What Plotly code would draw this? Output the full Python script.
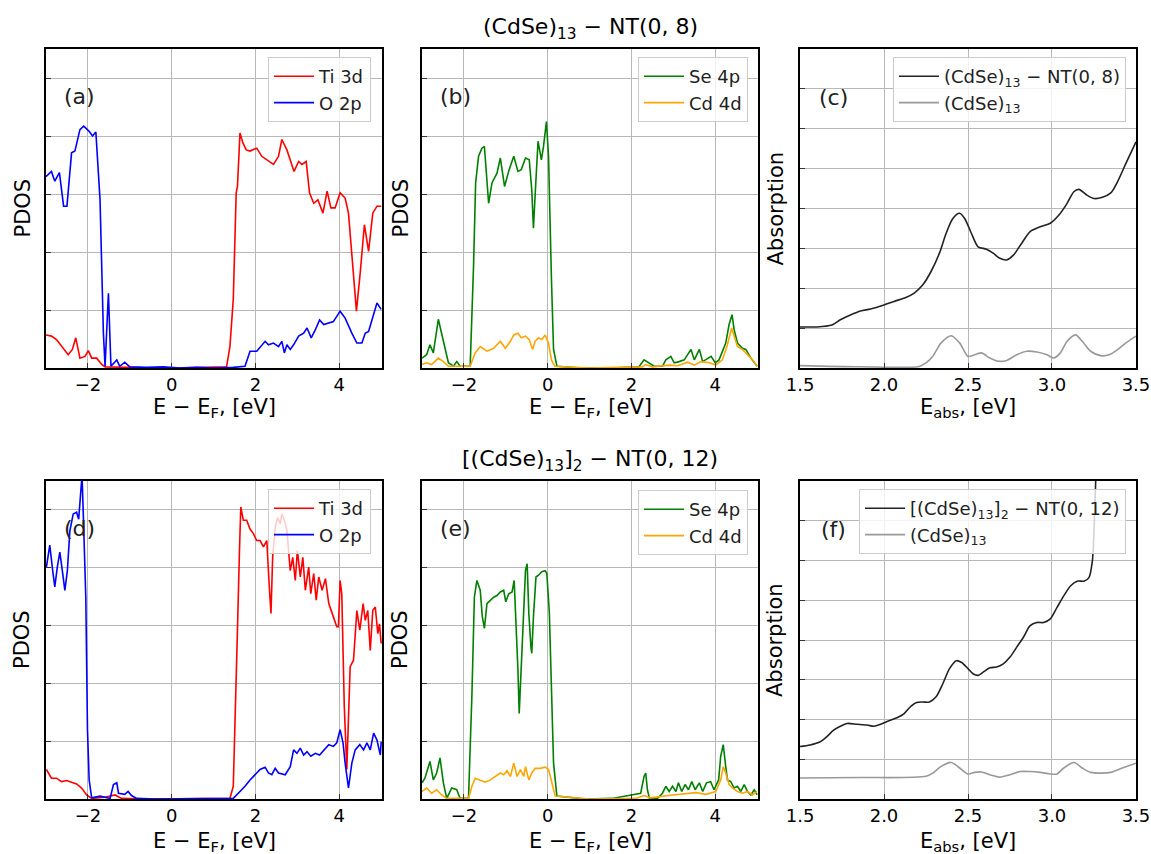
import plotly.graph_objects as go

# ---------------- data ----------------
# Panel (a): (CdSe)13-NT(0,8), Ti 3d / O 2p PDOS
a_ti_x = [-3.0,-2.87,-2.75,-2.63,-2.47,-2.37,-2.29,-2.19,-2.07,-1.99,-1.91,-1.79,-1.67,-1.59,-1.2,-0.8,-0.4,0,0.4,0.8,1.31,1.39,1.47,1.54,1.57,1.63,1.70,1.78,1.87,2.03,2.15,2.27,2.43,2.55,2.63,2.75,2.83,2.92,3.03,3.11,3.21,3.29,3.39,3.49,3.61,3.71,3.80,3.90,4.02,4.14,4.22,4.30,4.41,4.50,4.60,4.70,4.80,4.90,5.0]
a_ti_y = [0.57,0.55,0.49,0.37,0.23,0.32,0.52,0.17,0.20,0.30,0.17,0.17,0.06,0.02,0.01,0.01,0.0,0.0,0.0,0.01,0.02,0.37,1.18,3.02,3.13,4.05,3.88,3.76,3.74,3.79,3.65,3.59,3.51,3.65,3.94,3.76,3.59,3.39,3.56,3.51,3.56,3.02,2.84,2.90,2.67,3.05,2.76,2.76,3.02,2.93,2.67,1.98,0.98,1.64,2.47,2.01,2.67,2.79,2.79]
a_o_x = [-3.0,-2.87,-2.79,-2.68,-2.58,-2.5,-2.39,-2.31,-2.19,-2.10,-1.97,-1.89,-1.81,-1.71,-1.63,-1.59,-1.51,-1.45,-1.31,-1.24,-1.12,-1.0,-0.6,-0.2,0.2,0.6,1.0,1.47,1.75,1.87,2.03,2.23,2.31,2.43,2.55,2.63,2.69,2.75,2.83,2.91,3.03,3.15,3.23,3.33,3.43,3.53,3.63,3.75,3.86,4.02,4.14,4.30,4.42,4.54,4.62,4.70,4.80,4.90,5.0]
a_o_y = [3.30,3.39,3.22,3.37,2.79,2.79,3.71,3.74,4.11,4.17,4.08,4.0,4.07,2.90,0.60,0.03,1.29,0.03,0.14,0.03,0.10,0.02,0.01,0.02,0.0,0.01,0.0,0.01,0.03,0.29,0.29,0.46,0.40,0.43,0.37,0.46,0.26,0.40,0.32,0.40,0.55,0.60,0.69,0.52,0.66,0.83,0.75,0.78,0.80,0.98,0.86,0.60,0.43,0.43,0.60,0.63,0.89,1.12,1.01]

# Panel (b): Se 4p / Cd 4d PDOS
b_se_x = [-3.0,-2.89,-2.81,-2.73,-2.61,-2.53,-2.45,-2.37,-2.25,-2.17,-2.09,-1.85,-1.77,-1.72,-1.65,-1.57,-1.51,-1.45,-1.41,-1.33,-1.21,-1.13,-1.03,-0.92,-0.81,-0.71,-0.63,-0.53,-0.44,-0.38,-0.34,-0.28,-0.23,-0.15,-0.10,-0.03,0.02,0.09,0.14,0.22,0.8,1.5,2.18,2.30,2.42,2.54,2.74,2.82,2.94,3.02,3.14,3.26,3.34,3.42,3.50,3.62,3.70,3.82,3.90,4.0,4.09,4.25,4.33,4.40,4.45,4.53,4.65,4.73,4.85,5.0]
b_se_y = [0.17,0.23,0.40,0.26,0.84,0.60,0.32,0.09,0.03,0.11,0.03,0.03,1.75,3.19,3.65,3.79,3.82,3.30,2.84,3.19,3.36,3.62,3.13,3.42,3.65,3.39,3.42,3.62,3.59,3.07,2.41,3.25,3.91,3.59,3.82,4.25,3.65,1.52,0.32,0.03,0.0,0.0,0.02,0.14,0.09,0.03,0.03,0.14,0.20,0.09,0.11,0.14,0.23,0.32,0.14,0.32,0.11,0.17,0.20,0.09,0.14,0.43,0.75,0.92,0.66,0.43,0.34,0.32,0.17,0.03]
b_cd_x = [-3.0,-2.89,-2.77,-2.61,-2.49,-2.37,-1.85,-1.73,-1.61,-1.45,-1.29,-1.13,-1.01,-0.89,-0.81,-0.71,-0.63,-0.53,-0.44,-0.36,-0.30,-0.22,-0.14,-0.06,0.02,0.09,0.17,1.0,2.26,2.34,2.5,2.9,3.1,3.34,3.5,3.66,3.86,4.01,4.17,4.29,4.39,4.45,4.53,4.65,4.77,4.89,5.0]
b_cd_y = [0.06,0.09,0.06,0.17,0.11,0.03,0.03,0.26,0.37,0.29,0.34,0.46,0.34,0.46,0.57,0.60,0.52,0.55,0.49,0.32,0.46,0.52,0.49,0.57,0.43,0.14,0.03,0.0,0.02,0.06,0.02,0.05,0.04,0.10,0.05,0.11,0.09,0.05,0.14,0.40,0.69,0.55,0.37,0.32,0.23,0.14,0.03]

# Panel (c): absorption
c_nt_x = [1.5,1.60,1.69,1.74,1.80,1.86,1.92,2.0,2.06,2.13,2.18,2.23,2.28,2.33,2.37,2.41,2.45,2.48,2.52,2.56,2.61,2.65,2.69,2.73,2.77,2.82,2.87,2.93,2.99,3.04,3.09,3.13,3.16,3.21,3.25,3.30,3.35,3.39,3.44,3.5]
c_nt_y = [1.03,1.03,1.08,1.21,1.33,1.43,1.48,1.58,1.67,1.77,1.88,2.08,2.42,2.88,3.38,3.75,3.88,3.75,3.38,3.04,2.98,2.88,2.75,2.71,2.83,3.13,3.42,3.54,3.63,3.83,4.13,4.42,4.48,4.33,4.25,4.28,4.39,4.67,5.13,5.67]
c_cl_x = [1.5,1.86,2.21,2.25,2.29,2.34,2.40,2.45,2.50,2.54,2.58,2.63,2.68,2.73,2.79,2.85,2.91,2.97,3.01,3.05,3.09,3.14,3.18,3.23,3.29,3.34,3.39,3.44,3.5]
c_cl_y = [0.06,0.03,0.04,0.13,0.29,0.63,0.81,0.63,0.29,0.33,0.38,0.25,0.17,0.19,0.33,0.42,0.40,0.33,0.25,0.38,0.67,0.83,0.67,0.42,0.31,0.33,0.46,0.63,0.80]

# Panel (d): [(CdSe)13]2-NT(0,12), Ti 3d / O 2p PDOS
d_ti_x = [-2.99,-2.87,-2.75,-2.63,-2.51,-2.39,-2.27,-2.15,-2.03,-1.91,-1.6,-1.35,-1.2,-0.6,0.0,0.6,1.39,1.47,1.51,1.57,1.62,1.65,1.71,1.79,1.87,1.95,2.03,2.11,2.19,2.27,2.33,2.37,2.41,2.47,2.53,2.59,2.63,2.69,2.75,2.83,2.89,2.95,3.0,3.07,3.13,3.19,3.27,3.32,3.39,3.45,3.51,3.59,3.67,3.75,3.86,3.94,3.98,4.02,4.06,4.12,4.18,4.22,4.26,4.34,4.42,4.49,4.57,4.62,4.68,4.74,4.80,4.86,4.92,4.96,5.0]
d_ti_y = [0.51,0.36,0.36,0.30,0.32,0.29,0.26,0.19,0.07,0.01,0.03,0.07,0.01,0.0,0.0,0.0,0.01,0.22,1.20,2.92,4.36,5.05,4.82,4.82,4.67,4.59,4.47,4.47,4.36,4.47,3.67,3.21,4.18,4.70,4.87,4.76,4.93,4.82,4.64,3.95,4.18,3.78,4.30,3.84,4.18,3.61,4.01,3.55,3.90,3.44,3.84,3.61,3.81,3.38,3.15,2.98,2.98,3.78,3.55,1.60,0.51,1.60,2.29,2.40,3.26,2.92,3.38,3.09,3.26,2.57,3.26,3.32,2.86,3.03,2.69]
d_o_x = [-2.99,-2.91,-2.84,-2.79,-2.73,-2.67,-2.61,-2.55,-2.49,-2.43,-2.35,-2.27,-2.22,-2.17,-2.14,-2.11,-2.05,-2.01,-1.97,-1.91,-1.71,-1.47,-1.39,-1.31,-1.27,-1.12,-1.04,-0.96,-0.84,-0.4,0.4,1.0,1.47,1.63,1.75,1.87,2.0,2.11,2.23,2.31,2.39,2.47,2.55,2.71,2.83,2.91,2.99,3.07,3.15,3.23,3.32,3.43,3.53,3.63,3.75,3.86,3.94,4.02,4.09,4.14,4.22,4.30,4.38,4.49,4.58,4.66,4.74,4.82,4.90,4.98,5.0]
d_o_y = [4.01,4.39,3.95,3.67,4.01,4.27,3.95,3.61,3.95,4.64,4.93,4.96,4.84,5.45,5.6,4.93,3.49,1.20,0.33,0.02,0.05,0.01,0.25,0.28,0.10,0.08,0.13,0.06,0.01,0.0,0.0,0.01,0.01,0.13,0.22,0.33,0.42,0.51,0.55,0.45,0.42,0.53,0.45,0.42,0.56,0.85,0.79,0.88,0.76,0.82,0.74,0.79,0.76,0.85,0.94,0.91,0.97,1.20,0.97,0.62,0.19,0.62,0.85,0.94,0.85,0.97,0.85,1.14,1.02,0.76,0.99]

# Panel (e): Se 4p / Cd 4d PDOS
e_se_x = [-3.0,-2.93,-2.81,-2.73,-2.65,-2.57,-2.49,-2.41,-2.29,-2.17,-2.09,-1.89,-1.81,-1.75,-1.69,-1.61,-1.56,-1.51,-1.45,-1.37,-1.29,-1.21,-1.13,-1.05,-1.0,-0.93,-0.85,-0.80,-0.76,-0.71,-0.68,-0.63,-0.57,-0.53,-0.49,-0.45,-0.40,-0.38,-0.34,-0.28,-0.22,-0.14,-0.06,-0.02,0.04,0.09,0.14,0.22,0.9,1.54,2.22,2.30,2.34,2.38,2.43,2.62,2.74,2.82,2.90,2.98,3.06,3.12,3.20,3.28,3.36,3.44,3.52,3.62,3.70,3.79,3.89,3.97,4.08,4.13,4.19,4.24,4.29,4.37,4.45,4.53,4.61,4.69,4.77,4.85,4.93,5.0]
e_se_y = [0.28,0.36,0.65,0.33,0.45,0.71,0.28,0.01,0.19,0.16,0.01,0.01,1.77,3.49,3.78,3.61,3.15,2.95,3.38,3.44,3.49,3.52,3.58,3.61,3.41,3.55,3.58,3.78,3.15,2.23,1.48,2.23,3.38,3.95,4.07,3.21,2.63,2.52,3.15,3.84,3.87,3.93,3.95,3.90,3.21,1.77,0.62,0.05,0.0,0.01,0.10,0.39,0.45,0.16,0.01,0.01,0.10,0.22,0.13,0.22,0.13,0.28,0.13,0.25,0.16,0.30,0.16,0.28,0.13,0.28,0.30,0.16,0.33,0.74,0.94,0.62,0.33,0.30,0.19,0.22,0.13,0.25,0.13,0.07,0.16,0.07]
e_cd_x = [-3.0,-2.89,-2.77,-2.65,-2.53,-2.41,-1.89,-1.81,-1.73,-1.61,-1.49,-1.37,-1.25,-1.13,-1.05,-0.97,-0.89,-0.81,-0.73,-0.65,-0.57,-0.53,-0.45,-0.38,-0.30,-0.18,-0.06,0.02,0.10,0.18,1.0,2.1,2.30,2.45,2.98,3.30,3.54,3.78,4.01,4.13,4.19,4.25,4.33,4.41,4.53,4.65,4.77,4.89,5.0]
e_cd_y = [0.13,0.19,0.10,0.16,0.07,0.01,0.01,0.22,0.36,0.33,0.29,0.33,0.39,0.45,0.42,0.49,0.39,0.62,0.39,0.51,0.39,0.56,0.33,0.45,0.53,0.53,0.55,0.51,0.28,0.05,0.0,0.01,0.06,0.02,0.07,0.09,0.11,0.08,0.13,0.33,0.56,0.45,0.25,0.19,0.13,0.10,0.13,0.07,0.13]

# Panel (f): absorption
f_nt_x = [1.5,1.56,1.62,1.66,1.70,1.74,1.78,1.84,1.90,1.94,1.98,2.03,2.08,2.12,2.15,2.19,2.23,2.27,2.31,2.35,2.39,2.43,2.46,2.50,2.53,2.56,2.59,2.63,2.67,2.71,2.75,2.79,2.83,2.87,2.91,2.95,2.99,3.03,3.07,3.11,3.15,3.19,3.22,3.24,3.25,3.26,3.27]
f_nt_y = [1.32,1.36,1.44,1.57,1.73,1.83,1.90,1.88,1.86,1.83,1.88,1.97,2.05,2.15,2.29,2.42,2.44,2.44,2.57,2.90,3.28,3.48,3.44,3.28,3.15,3.11,3.19,3.30,3.32,3.40,3.57,3.82,4.07,4.36,4.44,4.44,4.53,4.82,5.11,5.36,5.48,5.48,5.57,5.98,6.73,7.98,8.8]
f_cl_x = [1.5,1.86,2.25,2.29,2.34,2.40,2.45,2.50,2.54,2.58,2.63,2.69,2.75,2.81,2.87,2.93,2.99,3.03,3.07,3.13,3.18,3.23,3.29,3.35,3.40,3.5]
f_cl_y = [0.53,0.54,0.57,0.65,0.82,0.92,0.78,0.63,0.67,0.68,0.61,0.55,0.61,0.69,0.69,0.67,0.63,0.63,0.78,0.92,0.78,0.67,0.65,0.67,0.75,0.90]

pdos_ticks = [-2, 0, 2, 4]
abs_ticks = [1.5, 2.0, 2.5, 3.0, 3.5]
panel_labels = ["(a)", "(b)", "(c)", "(d)", "(e)", "(f)"]
row_titles = ["(CdSe)<sub>13</sub> − NT(0, 8)", "[(CdSe)<sub>13</sub>]<sub>2</sub> − NT(0, 12)"]

# ---------------- layout geometry ----------------
W, H = 1151, 854
FONT = "DejaVu Sans"
col_px = [(46, 382), (422, 758), (800, 1136)]
row_px = [(49, 368), (481, 799)]

def px2x(p):
    return p / W

def px2y(p):
    return 1 - p / H

fig = go.Figure()

def add_line(ax, x, y, color, name, legend, shape="linear", width=1.6):
    fig.add_trace(go.Scatter(
        x=x, y=y, mode="lines", name=name,
        line=dict(color=color, width=width, shape=shape, smoothing=0.8),
        xaxis="x" + ("" if ax == 1 else str(ax)),
        yaxis="y" + ("" if ax == 1 else str(ax)),
        legend=legend, cliponaxis=True,
    ))

add_line(1, a_ti_x, a_ti_y, "#ff0000", "Ti 3d", "legend")
add_line(1, a_o_x, a_o_y, "#0000ff", "O 2p", "legend")
add_line(2, b_se_x, b_se_y, "#008000", "Se 4p", "legend2")
add_line(2, b_cd_x, b_cd_y, "#ffa500", "Cd 4d", "legend2")
add_line(3, c_nt_x, c_nt_y, "#222222", "(CdSe)<sub>13</sub> − NT(0, 8)", "legend3", "spline")
add_line(3, c_cl_x, c_cl_y, "#999999", "(CdSe)<sub>13</sub>", "legend3", "spline")
add_line(4, d_ti_x, d_ti_y, "#ff0000", "Ti 3d", "legend4")
add_line(4, d_o_x, d_o_y, "#0000ff", "O 2p", "legend4")
add_line(5, e_se_x, e_se_y, "#008000", "Se 4p", "legend5")
add_line(5, e_cd_x, e_cd_y, "#ffa500", "Cd 4d", "legend5")
add_line(6, f_nt_x, f_nt_y, "#222222", "[(CdSe)<sub>13</sub>]<sub>2</sub> − NT(0, 12)", "legend6", "spline")
add_line(6, f_cl_x, f_cl_y, "#999999", "(CdSe)<sub>13</sub>", "legend6", "spline")

axis_common = dict(
    showline=True, linecolor="black", linewidth=1.5, mirror=True,
    showgrid=True, gridcolor="#b8b8b8", gridwidth=1.3, automargin=False,
    zeroline=False, ticks="inside", ticklen=5, tickwidth=1.2, tickcolor="#333",
    tickfont=dict(family=FONT, size=18, color="black"),
)

layout = dict(
    width=W, height=H, margin=dict(l=0, r=0, t=0, b=0, autoexpand=False),
    paper_bgcolor="white", plot_bgcolor="white",
    font=dict(family=FONT, color="black"),
)

n = 0
for r in range(2):
    for c in range(3):
        n += 1
        xk = "xaxis" + ("" if n == 1 else str(n))
        yk = "yaxis" + ("" if n == 1 else str(n))
        x0, x1 = col_px[c]
        y0, y1 = row_px[r]
        if c < 2:
            xa = dict(range=[-3.0, 5.02], tickmode="array", tickvals=pdos_ticks,
                      ticktext=["−2", "0", "2", "4"])
            ya = dict(range=[0, 5.5], tickmode="array", tickvals=[1, 2, 3, 4, 5])
        else:
            xa = dict(range=[1.4999, 3.5001], tickmode="array", tickvals=abs_ticks,
                      ticktext=["1.5", "2.0", "2.5", "3.0", "3.5"])
            ya = dict(range=[0, 8], tickmode="array", tickvals=[1, 2, 3, 4, 5, 6, 7])
        layout[xk] = dict(domain=[px2x(x0), px2x(x1)], anchor="y" + ("" if n == 1 else str(n)),
                          **xa, **axis_common)
        layout[yk] = dict(domain=[px2y(y1), px2y(y0)], anchor="x" + ("" if n == 1 else str(n)),
                          showticklabels=False, **ya, **axis_common)

# legends
legend_pos = {
    "legend": (371, 57), "legend2": (748, 57), "legend3": (1126, 57),
    "legend4": (371, 489), "legend5": (748, 490), "legend6": (1126, 489),
}
for k, (rx, ty) in legend_pos.items():
    layout[k] = dict(
        x=px2x(rx), y=px2y(ty), xanchor="right", yanchor="top", xref="paper", yref="paper",
        bgcolor="rgba(255,255,255,0.8)", bordercolor="#cccccc", borderwidth=1,
        font=dict(family=FONT, size=18, color="#222"), tracegroupgap=0,
        itemwidth=40,
    )

fig.update_layout(**layout)

# panel labels
label_pos = [(-2.19, 4.68), (-2.21, 4.68), (1.70, 6.79), (-2.19, 4.67), (-2.21, 4.67), (1.70, 6.78)]
for i, (lab, (lx, ly)) in enumerate(zip(panel_labels, label_pos)):
    k = "" if i == 0 else str(i + 1)
    fig.add_annotation(x=lx, y=ly, xref="x" + k, yref="y" + k, text=lab, showarrow=False,
                       xanchor="center", yanchor="middle",
                       font=dict(family=FONT, size=22, color="#222"))

# row titles
for r, t in enumerate(row_titles):
    fig.add_annotation(x=px2x(590), y=px2y([28, 460][r]), xref="paper", yref="paper",
                       text=t, showarrow=False, xanchor="center", yanchor="middle",
                       font=dict(family=FONT, size=22, color="black"))

# axis titles
for r in range(2):
    y0, y1 = row_px[r]
    yc = (y0 + y1) / 2
    xt_y = [408, 842][r]
    for c in range(3):
        x0, x1 = col_px[c]
        xc = (x0 + x1) / 2
        xt = "E − E<sub>F</sub>, [eV]" if c < 2 else "E<sub>abs</sub>, [eV]"
        fig.add_annotation(x=px2x(xc), y=px2y(xt_y), xref="paper", yref="paper", text=xt,
                           showarrow=False, xanchor="center", yanchor="middle",
                           font=dict(family=FONT, size=21, color="black"))
        yt = "PDOS" if c < 2 else "Absorption"
        yx = [22, 400, 775][c]
        fig.add_annotation(x=px2x(yx), y=px2y(yc), xref="paper", yref="paper", text=yt,
                           textangle=-90, showarrow=False, xanchor="center", yanchor="middle",
                           font=dict(family=FONT, size=21, color="black"))

fig.write_html("out.html")
